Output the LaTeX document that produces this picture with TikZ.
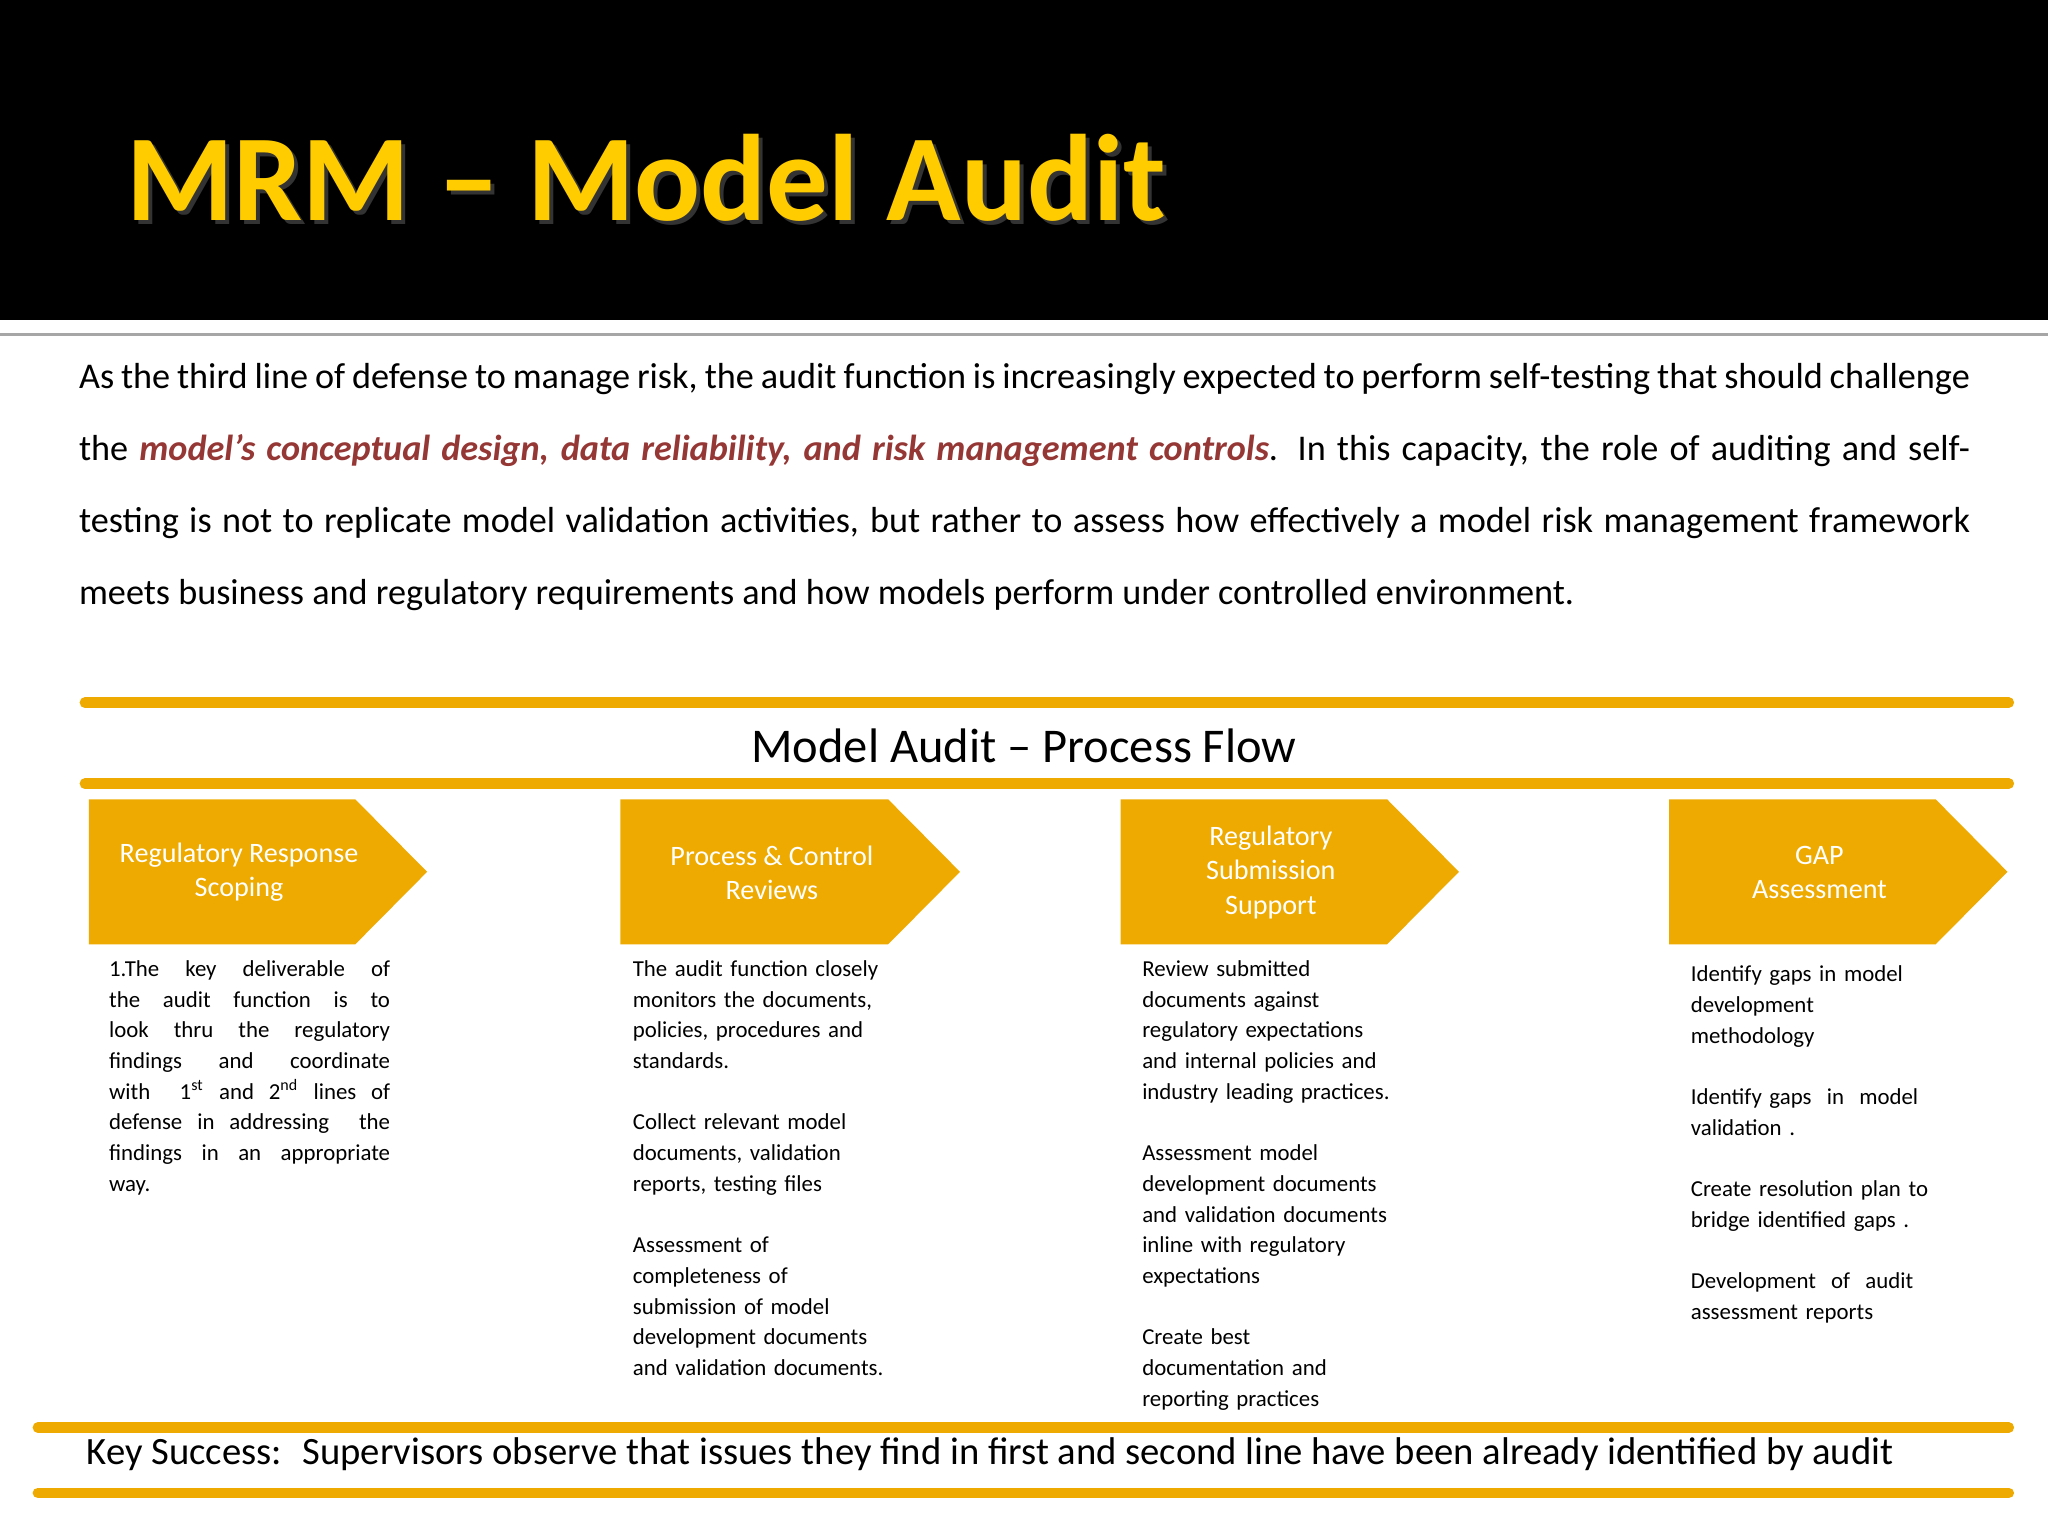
\documentclass[tikz,border=0pt]{standalone}
\usepackage{fontspec}
\setmainfont{Carlito}
\usetikzlibrary{calc}
\definecolor{gold}{HTML}{EEAA00}
\definecolor{bar}{HTML}{EEAA00}
\definecolor{titlegold}{HTML}{FFCC00}
\definecolor{redt}{HTML}{953735}
\tikzset{
 chev/.style={fill=gold,draw=none},
 chevtxt/.style={text=white,font=\fontsize{8}{9.7}\selectfont,align=center,inner sep=0},
 coltxt/.style={anchor=north west,inner sep=0,text width=#1,font=\fontsize{6.5}{8.73}\selectfont,align=left},
 goldbar/.style={line width=3pt,draw=bar,line cap=round}
}
\begin{document}
\begin{tikzpicture}[x=0.01306cm,y=-0.01306cm]
\useasboundingbox (0,0) rectangle (1568,1176);
\fill[black] (0,0) rectangle (1568,245);
\draw[gray!70,line width=0.8pt] (0,256) -- (1568,256);
\node[anchor=west,inner sep=0,text=black!80,font=\fontsize{35}{40}\selectfont\bfseries] (tsh) at (99,139) {MRM -- Model Audit};
\node[anchor=west,inner sep=0,text=titlegold,font=\fontsize{35}{40}\selectfont\bfseries] (title) at (96,136) {MRM -- Model Audit};
\node[anchor=north west,inner sep=0,text width=18.91cm,align=justify,font=\fontsize{10.3}{20.4}\selectfont] (para) at (60,278)
{As the third line of defense to manage risk, the audit function is increasingly expected to perform self-testing that should challenge the {\color{redt}\bfseries\itshape model’s conceptual design, data reliability, and risk management controls}. In this capacity, the role of auditing and self-testing is not to replicate model validation activities, but rather to assess how effectively a model risk management framework meets business and regulatory requirements and how models perform under controlled environment.};
\coordinate (b1a) at (65,538); \coordinate (b1b) at (1538,538);
\draw[goldbar] (b1a) -- (b1b);
\coordinate (b2a) at (65,600); \coordinate (b2b) at (1538,600);
\draw[goldbar] (b2a) -- (b2b);
\node[inner sep=0,font=\fontsize{13.8}{16}\selectfont] (pf) at (784,571) {Model Audit -- Process Flow};
% chevrons
\foreach \x/\r/\t/\n in {68/272/327/c1,475/680/735/c2,858/1062/1117/c3,1278/1482/1537/c4}{
 \fill[chev] (\x,612) -- (\r,612) -- (\t,667.5) -- (\r,723) -- (\x,723) -- cycle;
}
\node[chevtxt] (t1) at (183,668) {Regulatory Response\\Scoping};
\node[chevtxt] (t2) at (591,668) {Process \& Control\\Reviews};
\node[chevtxt] (t3) at (973,668) {Regulatory\\Submission\\Support};
\node[chevtxt] (t4) at (1393,668) {GAP\\Assessment};
\node[coltxt=2.81cm,align=justify] (k1) at (83,735) {1.The key deliverable of\linebreak the audit function is to\linebreak look thru the regulatory\linebreak findings and coordinate\linebreak with \ 1\textsuperscript{st} and 2\textsuperscript{nd} lines of\linebreak defense in addressing \ the\linebreak findings in an appropriate\linebreak way.};
\node[coltxt=3.2cm] (k2) at (484,735) {The audit function closely\\monitors the documents,\\policies, procedures and\\standards.\\[8.73pt]Collect relevant model\\documents, validation\\reports, testing files\\[8.73pt]Assessment of\\completeness of\\submission of model\\development documents\\and validation documents.};
\node[coltxt=3.2cm] (k3) at (874,735) {Review submitted\\documents against\\regulatory expectations\\and internal policies and\\industry leading practices.\\[8.73pt]Assessment model\\development documents\\and validation documents\\inline with regulatory\\expectations\\[8.73pt]Create best\\documentation and\\reporting practices};
\node[coltxt=3.2cm] (k4) at (1294,739) {Identify gaps in model\\development\\methodology\\[8.73pt]Identify gaps \ in \ model\\validation .\\[8.73pt]Create resolution plan to\\bridge identified gaps .\\[8.73pt]Development \ of \ audit\\assessment reports};
\coordinate (b3a) at (29,1093); \coordinate (b3b) at (1538,1093);
\draw[goldbar] (b3a) -- (b3b);
\coordinate (b4a) at (29,1143); \coordinate (b4b) at (1538,1143);
\draw[goldbar] (b4a) -- (b4b);
\node[anchor=west,inner sep=0,font=\fontsize{11}{13}\selectfont] (ks) at (66,1113) {Key Success: \ Supervisors observe that issues they find in first and second line have been already identified by audit};
\end{tikzpicture}
\end{document}
